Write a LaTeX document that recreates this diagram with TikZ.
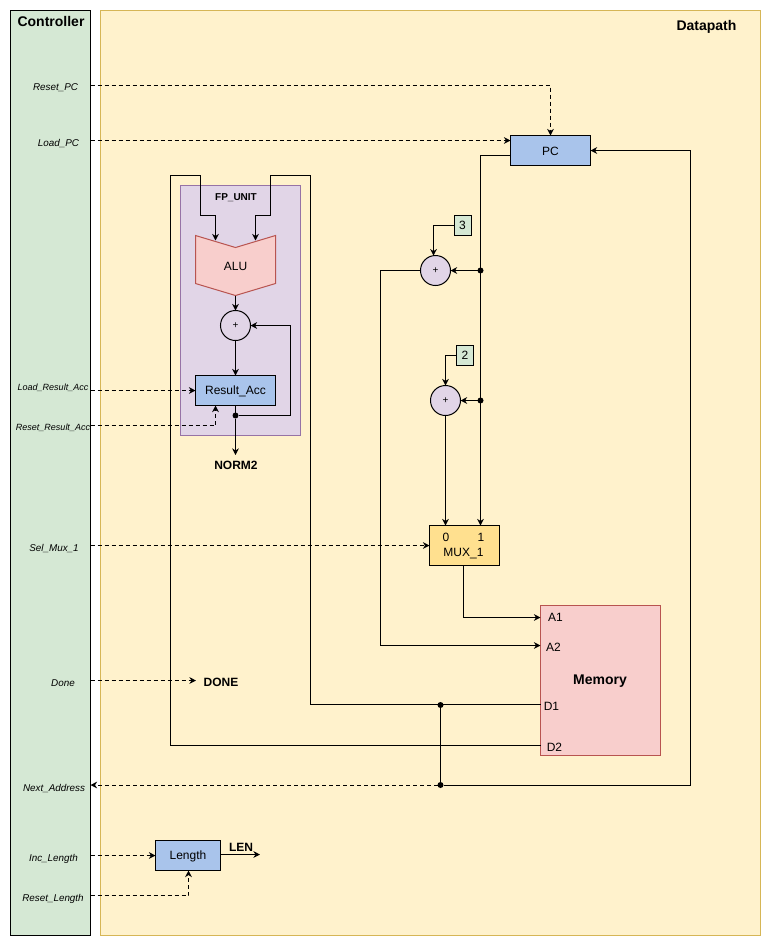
\documentclass[tikz,border=0pt]{standalone}
\usepackage{fontspec}
\setmainfont{Liberation Sans}
\usetikzlibrary{arrows.meta,calc}
\definecolor{gfill}{HTML}{D5E8D4}
\definecolor{yfill}{HTML}{FFF2CC}
\definecolor{ystroke}{HTML}{D6B656}
\definecolor{pfill}{HTML}{E1D5E7}
\definecolor{pstroke}{HTML}{9673A6}
\definecolor{rfill}{HTML}{F8CECC}
\definecolor{rstroke}{HTML}{B85450}
\definecolor{bfill}{HTML}{A9C4EB}
\definecolor{mfill}{HTML}{FFE08F}
\newcommand{\lowr}[1]{\raisebox{-0.9pt}[\height][\depth]{#1}}
\tikzset{
  sz/.style 2 args={minimum width=#1*0.75pt,minimum height=#2*0.75pt},
  block/.style={draw=black,line width=0.75pt,rectangle,inner sep=0pt,outer sep=0pt,font=\fontsize{9}{11}\selectfont},
  bluebox/.style={block,fill=bfill},
  constbox/.style={block,fill=gfill},
  adder/.style={circle,draw=black,line width=0.75pt,fill=pfill,inner sep=0pt,outer sep=0pt,minimum size=30*0.75pt,font=\fontsize{7.5}{9}\selectfont},
  sig/.style={inner sep=0pt,font=\fontsize{7.4}{9}\selectfont\itshape},
  sigsmall/.style={inner sep=0pt,font=\fontsize{6.75}{8}\selectfont\itshape},
  txt/.style={inner sep=0pt,font=\fontsize{9}{11}\selectfont},
  boldtxt/.style={inner sep=0pt,font=\fontsize{9}{11}\selectfont\bfseries},
  bigbold/.style={inner sep=0pt,font=\fontsize{10.5}{13}\selectfont\bfseries},
  wire/.style={draw=black,line width=0.75pt,-{Stealth[length=5pt,width=5pt]}},
  plainwire/.style={draw=black,line width=0.75pt},
  ctl/.style={wire,dash pattern=on 3pt off 2.25pt},
  dotn/.style={circle,fill=black,inner sep=0pt,outer sep=0pt,minimum size=4.5pt},
}
\begin{document}
\begin{tikzpicture}[x=0.75pt,y=-0.75pt]
\useasboundingbox (0,0) rectangle (772,947);
\fill[white] (0,0) rectangle (772,947);
% regions
\node[block,fill=gfill,sz={80}{925}] (ctrl) at (50.5,473) {};
\node[block,draw=ystroke,fill=yfill,sz={660}{925}] (dp) at (430.5,473) {};
\node[bigbold] (ctrltxt) at (51,21) {Controller};
\node[bigbold] (dptxt) at (706.5,27) {Datapath};
\node[block,draw=pstroke,fill=pfill,sz={120}{250}] (fp) at (240.5,310.5) {};
\node[inner sep=0pt,font=\fontsize{7.5}{9}\selectfont\bfseries] (fptxt) at (236,198) {FP\_UNIT};
% ALU
\draw[draw=rstroke,fill=rfill,line width=0.75pt] (195.5,235.5) -- (235.5,247.5) -- (275.5,235.5) -- (275.5,283.5) -- (235.5,295.5) -- (195.5,283.5) -- cycle;
\node[txt] (alu) at (235.5,266.5) {ALU};
\coordinate (aluA) at (215.5,240.5);
\coordinate (aluB) at (255.5,240.5);
\coordinate (aluOut) at (235.5,295.5);
% blocks
\node[adder] (addacc) at (235.5,325.5) {+};
\node[bluebox,sz={80}{30}] (acc) at (235.5,390.5) {\lowr{Result\_Acc}};
\node[bluebox,sz={80}{30}] (pc) at (550.5,150.5) {\lowr{PC}};
\node[adder] (add3) at (435.5,270.5) {+};
\node[adder] (add2) at (445.5,400.5) {+};
\node[constbox,sz={17}{20}] (c3) at (462.5,225.5) {3};
\node[constbox,sz={17}{20}] (c2) at (465,355.5) {2};
\node[block,fill=mfill,sz={70}{40}] (mux) at (464.5,545.5) {};
\node[txt] at (446,537.5) {0};
\node[txt] at (481,537.5) {1};
\node[txt] (muxt) at (463.5,553.5) {MUX\_1};
\node[block,draw=rstroke,fill=rfill,sz={120}{150}] (mem) at (600.5,680.5) {};
\node[bigbold] (memt) at (600,681.5) {Memory};
\node[txt] at (555.5,617.5) {A1};
\node[txt] at (553.5,647.5) {A2};
\node[txt] at (551.5,706) {D1};
\node[txt] at (554.5,747.5) {D2};
\node[bluebox,sz={65}{30}] (len) at (188,855.5) {\lowr{Length}};
% text labels
\node[sig] (lrp) at (55.5,88) {Reset\_PC};
\node[sig] (llp) at (58.5,143.5) {Load\_PC};
\node[sigsmall] (llr) at (53,388) {Load\_Result\_Acc};
\node[sigsmall] (lrr) at (53,428) {Reset\_Result\_Acc};
\node[sig] (lsm) at (54,548.5) {Sel\_Mux\_1};
\node[sig] (ldn) at (63,683) {Done};
\node[sig] (lna) at (54,788.5) {Next\_Address};
\node[sig] (lil) at (53.5,858.5) {Inc\_Length};
\node[sig] (lrl) at (53,898.5) {Reset\_Length};
\node[boldtxt] (norm) at (236,465.5) {NORM2};
\node[boldtxt] (done) at (221,682) {DONE};
\node[boldtxt] (lent) at (241,847.5) {LEN};
% free ends
\coordinate (normEnd) at (235.5,455);
\coordinate (lenEnd) at (260,854.5);
\coordinate (doneEnd) at (196,680.5);
\coordinate (lenOut) at (220.5,854.5);
% junctions
\node[dotn] (jacc) at (235.5,415.5) {};
\node[dotn] (j3) at (480.5,270.5) {};
\node[dotn] (j2) at (480.5,400.5) {};
\node[dotn] (jd1) at (440.5,705) {};
\node[dotn] (jna) at (440.5,785) {};
% FP unit wiring
\draw[wire] (aluOut) -- (addacc.north);
\draw[wire] (addacc.south) -- (acc.north);
\draw[plainwire] (acc.south) -- (jacc);
\draw[wire] (jacc) -- (normEnd);
\draw[wire] (jacc) -- (290.5,415.5) -- (290.5,325.5) -- (addacc.east);
% PC bus
\coordinate (pcOut) at (510.5,155.5);
\coordinate (mux1) at (480.5,525.5);
\coordinate (mux0) at (445.5,525.5);
\draw[wire] (pcOut) -- (480.5,155.5) -- (mux1);
\draw[wire] (j3) -- (add3.east);
\draw[wire] (j2) -- (add2.east);
\coordinate (add3in) at (433.5,255.7);
\draw[wire] (c3.west) -- (433.5,225.5) -- (add3in);
\draw[wire] (c2.west) -- (445.5,355.5) -- (add2.north);
\draw[wire] (add2.south) -- (mux0);
% memory address
\coordinate (memA1) at (540.5,617.5);
\coordinate (memA2) at (540.5,645.5);
\coordinate (muxOut) at (463.5,565.5);
\draw[wire] (muxOut) -- (463.5,617.5) -- (memA1);
\draw[wire] (add3.west) -- (380.5,270.5) -- (380.5,645.5) -- (memA2);
% memory data
\coordinate (memD1) at (540.5,704.5);
\coordinate (memD2) at (540.5,745.5);
\draw[plainwire] (memD1) -- (310.5,704.5);
\draw[wire] (310.5,704.5) -- (310.5,175.5) -- (270.5,175.5) -- (270.5,215.5) -- (255.5,215.5) -- (aluB);
\draw[wire] (memD2) -- (170.5,745.5) -- (170.5,175.5) -- (200.5,175.5) -- (200.5,215.5) -- (215.5,215.5) -- (aluA);
\draw[plainwire] (jd1) -- (jna);
\draw[wire] (jna) -- (690.5,785) -- (690.5,150.5) -- (pc.east);
% control signals
\coordinate (cRP) at (90.5,85.5);
\coordinate (cLP) at (90.5,140.5);
\coordinate (cLR) at (90.5,390.5);
\coordinate (cRR) at (90.5,425.5);
\coordinate (cSM) at (90.5,545.5);
\coordinate (cDN) at (90.5,680.5);
\coordinate (cNA) at (90.5,785);
\coordinate (cIL) at (90.5,855.5);
\coordinate (cRL) at (90.5,895.5);
\coordinate (pcLoad) at (510.5,140.5);
\coordinate (accRst) at (215.5,405.5);
\coordinate (lenRst) at (188.5,870.5);
\draw[ctl] (cRP) -- (550.5,85.5) -- (pc.north);
\draw[ctl] (cLP) -- (pcLoad);
\draw[ctl] (cLR) -- (acc.west);
\draw[ctl] (cRR) -- (215.5,425.5) -- (accRst);
\draw[ctl] (cSM) -- (mux.west);
\draw[ctl] (cDN) -- (doneEnd);
\draw[ctl] (jna) -- (cNA);
\draw[ctl] (cIL) -- (len.west);
\draw[ctl] (cRL) -- (188.5,895.5) -- (lenRst);
\draw[wire] (lenOut) -- (lenEnd);
\end{tikzpicture}
\end{document}
